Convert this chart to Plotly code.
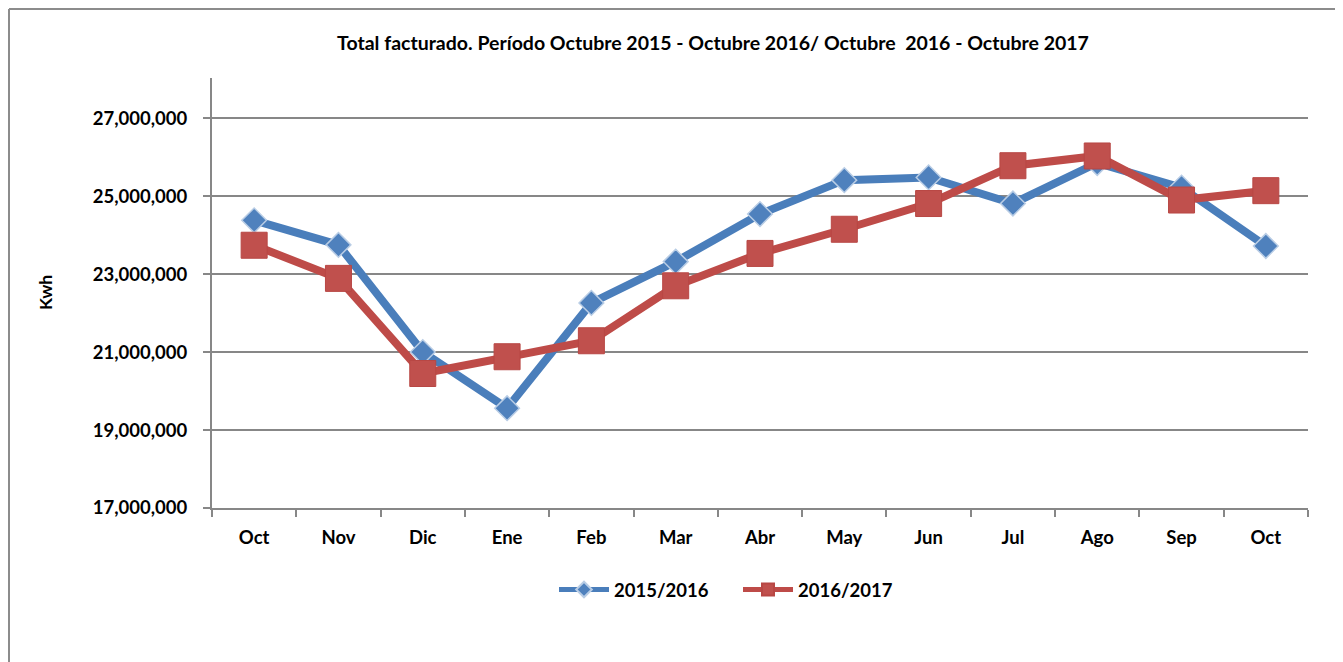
import plotly.graph_objects as go

months = ["Oct", "Nov", "Dic", "Ene", "Feb", "Mar", "Abr", "May", "Jun", "Jul", "Ago", "Sep", "Oct"]
serie_2015_2016 = [24380000, 23750000, 21000000, 19560000, 22260000, 23320000, 24540000,
                   25410000, 25480000, 24810000, 25850000, 25220000, 23720000]
serie_2016_2017 = [23740000, 22890000, 20450000, 20880000, 21290000, 22700000, 23530000,
                   24150000, 24810000, 25780000, 26030000, 24900000, 25140000]
y_ticks = [17000000, 19000000, 21000000, 23000000, 25000000, 27000000]

FONT = "Lato"
GRID = "#878787"
x_idx = list(range(len(months)))

fig = go.Figure()
fig.add_trace(go.Scatter(
    x=x_idx, y=serie_2015_2016, name="2015/2016", mode="lines+markers",
    line=dict(color="#4A7EBB", width=8),
    marker=dict(symbol="diamond", size=19, color="#4F81BD",
                line=dict(color="#B9CDE5", width=1.5)),
))
fig.add_trace(go.Scatter(
    x=x_idx, y=serie_2016_2017, name="2016/2017", mode="lines+markers",
    line=dict(color="#BE4B48", width=8),
    marker=dict(symbol="square", size=26, color="#C0504D",
                line=dict(color="#B84744", width=1)),
))

# page offset of the figure inside the browser page (body margin)
OFF = 8
PW, PH = 1343, 662
W, H = PW - OFF, PH - OFF
# plot area in page pixels
L, R, T, B = 212, 1308, 78, 508
pw, ph = R - L, B - T


def px(xp):
    return (xp - L) / pw


def py(yp):
    return (B - yp) / ph


fig.update_layout(
    width=W, height=H,
    margin=dict(l=L - OFF, r=PW - R, t=T - OFF, b=PH - B),
    paper_bgcolor="white", plot_bgcolor="white",
    font=dict(family=FONT, color="black", size=17, weight="bold"),
    title=dict(
        text="Total facturado. Período Octubre 2015 - Octubre 2016/ Octubre  2016 - Octubre 2017",
        x=(713 - OFF) / W, xref="container", xanchor="center",
        y=1 - (43 - OFF) / H, yref="container", yanchor="middle",
        font=dict(family=FONT, size=19.5, color="black", weight="bold"),
    ),
    showlegend=True,
    legend=dict(
        orientation="h", x=px(554), y=py(590), xanchor="left", yanchor="middle",
        font=dict(family=FONT, size=18.5, color="black", weight="bold"),
        itemsizing="constant", itemwidth=50, entrywidth=119,
        bgcolor="rgba(0,0,0,0)",
    ),
    xaxis=dict(
        range=[-0.5, len(months) - 0.5],
        tickmode="array", tickvals=x_idx, ticktext=months,
        ticks="", showline=True, linecolor=GRID, linewidth=2,
        showgrid=False, zeroline=False,
        tickfont=dict(family=FONT, size=18.5, color="black", weight="bold"),
        ticklabelstandoff=12,
        minor=dict(ticks="outside", tick0=-0.5, dtick=1, ticklen=7,
                   tickcolor=GRID, tickwidth=2, showgrid=False),
    ),
    yaxis=dict(
        range=[17000000, 28030000],
        tickmode="array", tickvals=y_ticks, tickformat=",d",
        ticks="outside", ticklen=7, tickcolor=GRID, tickwidth=2,
        showline=True, linecolor=GRID, linewidth=2,
        showgrid=True, gridcolor=GRID, gridwidth=2, zeroline=False,
        tickfont=dict(family=FONT, size=18.5, color="black", weight="bold"),
        ticklabelstandoff=12,
    ),
    annotations=[dict(
        text="Kwh", textangle=-90, x=px(45), y=0.5, xref="paper", yref="paper",
        showarrow=False, xanchor="center", yanchor="middle",
        font=dict(family=FONT, size=17.5, color="black", weight="bold"),
    )],
    shapes=[
        dict(type="line", xref="paper", yref="paper", x0=px(9), x1=px(1343),
             y0=py(9), y1=py(9), line=dict(color="#8C8C8C", width=2)),
        dict(type="line", xref="paper", yref="paper", x0=px(9), x1=px(9),
             y0=py(9), y1=py(662), line=dict(color="#8C8C8C", width=2)),
    ],
)

fig.write_html("out.html")
